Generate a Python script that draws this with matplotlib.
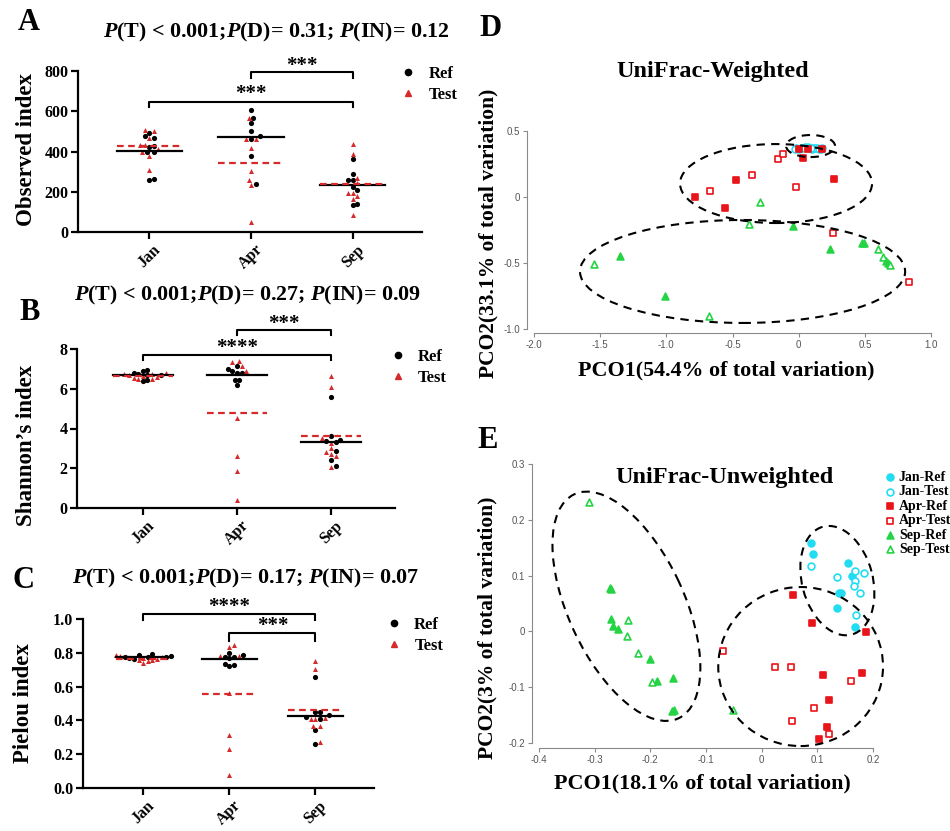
import numpy as np
import matplotlib
matplotlib.use("Agg")
import matplotlib.pyplot as plt
from matplotlib.lines import Line2D
from matplotlib.patches import Ellipse

plt.rcParams['font.family'] = ['Liberation Serif', 'DejaVu Serif']
plt.rcParams['font.weight'] = 'bold'
plt.rcParams['mathtext.fontset'] = 'custom'
plt.rcParams['mathtext.it'] = 'Liberation Serif:italic:bold'
plt.rcParams['mathtext.rm'] = 'Liberation Serif:bold'

# ---------------- data ----------------
months = ['Jan', 'Apr', 'Sep']

obs_ref = [[490, 478, 468, 425, 423, 400, 398, 265, 257],
           [606, 564, 543, 501, 476, 460, 378, 240],
           [365, 290, 258, 256, 225, 208, 137, 135]]
obs_test = [[505, 502, 465, 432, 430, 410, 400, 380, 307],
            [565, 460, 460, 418, 302, 257, 236, 50],
            [437, 390, 266, 243, 195, 192, 178, 166, 83]]

sha_ref = [[6.96, 6.91, 6.79, 6.72, 6.71, 6.70, 6.46, 6.37],
           [7.16, 7.00, 6.88, 6.80, 6.78, 6.46, 6.42, 6.20],
           [5.58, 3.60, 3.42, 3.39, 3.32, 2.88, 2.43, 2.13]]
sha_test = [[6.80, 6.75, 6.72, 6.70, 6.65, 6.60, 6.55, 6.50, 6.48],
            [7.38, 7.36, 7.16, 6.91, 4.53, 2.60, 1.84, 0.42],
            [6.62, 6.09, 3.50, 3.27, 3.02, 2.80, 2.73, 2.63, 2.06]]

pie_ref = [[0.790, 0.788, 0.780, 0.778, 0.776, 0.775, 0.770, 0.762],
           [0.797, 0.788, 0.778, 0.776, 0.768, 0.734, 0.725, 0.719],
           [0.654, 0.447, 0.447, 0.429, 0.419, 0.410, 0.341, 0.262]]
pie_test = [[0.785, 0.780, 0.775, 0.770, 0.765, 0.760, 0.758, 0.750, 0.742],
            [0.847, 0.833, 0.782, 0.782, 0.561, 0.315, 0.232, 0.079],
            [0.754, 0.705, 0.417, 0.410, 0.410, 0.368, 0.364, 0.270]]

titles_abc = ['$P$(T) < 0.001;$P$(D)= 0.31; $P$(IN)= 0.12',
              '$P$(T) < 0.001;$P$(D)= 0.27; $P$(IN)= 0.09',
              '$P$(T) < 0.001;$P$(D)= 0.17; $P$(IN)= 0.07']
ylabels_abc = ['Observed index', 'Shannon\u2019s index', 'Pielou index']

# brackets: (from, to, top, tick end, star centre, label)
brackets_a = [(1, 2, 795, 765, 850, '***'), (0, 2, 645, 620, 710, '***')]
brackets_b = [(1, 2, 8.97, 8.72, 9.5, '***'), (0, 2, 7.71, 7.46, 8.27, '****')]
brackets_c = [(0, 2, 1.028, 0.994, 1.10, '****'), (1, 2, 0.915, 0.872, 0.985, '***')]

groups = ['Jan-Ref', 'Jan-Test', 'Apr-Ref', 'Apr-Test', 'Sep-Ref', 'Sep-Test']

w_x = [[-0.02, 0.02, 0.05, 0.08, 0.11, 0.14, 0.17, 0.10],
       [-0.03, 0.00, 0.04, 0.07, 0.12, 0.15, 0.18, 0.09],
       [0.005, 0.07, 0.033, 0.176, 0.264, -0.474, -0.781, -0.559],
       [-0.156, -0.121, -0.35, -0.668, -0.018, 0.259, 0.836],
       [-1.353, -1.008, -0.043, 0.234, 0.479, 0.496, 0.663, 0.673],
       [-1.549, -0.678, -0.378, -0.295, 0.597, 0.637, 0.688]]
w_y = [[0.37, 0.375, 0.38, 0.37, 0.375, 0.37, 0.365, 0.36],
       [0.36, 0.365, 0.37, 0.38, 0.37, 0.365, 0.37, 0.375],
       [0.364, 0.364, 0.298, 0.364, 0.14, 0.129, 0.003, -0.08],
       [0.286, 0.326, 0.17, 0.048, 0.078, -0.274, -0.64],
       [-0.443, -0.753, -0.218, -0.392, -0.35, -0.345, -0.488, -0.5],
       [-0.506, -0.904, -0.203, -0.04, -0.395, -0.455, -0.513]]

u_x = [[0.089, 0.092, 0.155, 0.163, 0.139, 0.143, 0.136, 0.168],
       [0.088, 0.135, 0.167, 0.168, 0.165, 0.184, 0.176, 0.170],
       [0.057, 0.090, 0.187, 0.111, 0.180, 0.121, 0.117, 0.103],
       [-0.070, 0.024, 0.052, 0.160, 0.094, 0.055, 0.121],
       [-0.273, -0.270, -0.271, -0.267, -0.258, -0.201, -0.188, -0.159, -0.161, -0.158],
       [-0.310, -0.240, -0.242, -0.222, -0.197, -0.052]]
u_y = [[0.159, 0.139, 0.123, 0.100, 0.068, 0.068, 0.042, 0.007],
       [0.118, 0.098, 0.109, 0.090, 0.081, 0.104, 0.069, 0.030],
       [0.065, 0.0145, -0.001, -0.079, -0.074, -0.123, -0.172, -0.192],
       [-0.036, -0.064, -0.064, -0.089, -0.137, -0.160, -0.184],
       [0.077, 0.076, 0.022, 0.010, 0.004, -0.050, -0.089, -0.083, -0.143, -0.141],
       [0.231, 0.020, -0.009, -0.038, -0.090, -0.141]]

# dashed group ellipses: centre x, centre y, width, height, angle
ell_w = [(0.09, 0.386, 0.370, 0.167, 0), (-0.171, 0.102, 1.451, 0.598, 0),
         (-0.424, -0.564, 2.457, 0.78, 0)]
ell_u = [(-0.243, 0.045, 0.443, 0.208, 115), (0.136, 0.091, 0.200, 0.127, 105),
         (0.070, -0.063, 0.296, 0.285, 0)]

RED = '#d62a2a'
CYAN = '#22dcf2'
PRED = '#e8141a'
GREEN = '#25d444'
grp_style = [dict(marker='o', color=CYAN, filled=True),
             dict(marker='o', color=CYAN, filled=False),
             dict(marker='s', color=PRED, filled=True),
             dict(marker='s', color=PRED, filled=False),
             dict(marker='^', color=GREEN, filled=True),
             dict(marker='^', color=GREEN, filled=False)]


def swarm(ax, xc, vals, diam=4.6):
    # simple beeswarm: push points sideways until they stop overlapping
    pts = ax.transData.transform(np.column_stack([np.full(len(vals), xc), vals]))
    ypx = pts[:, 1]
    unit = ax.transData.transform((1, 0))[0] - ax.transData.transform((0, 0))[0]
    placed = []
    off = np.zeros(len(vals))
    for i in np.argsort(ypx):
        k = 0
        found = None
        while found is None:
            for c in ([0] if k == 0 else [k, -k]):
                dx = c * diam * 0.5
                if all((dx - px) ** 2 + (ypx[i] - py) ** 2 >= diam ** 2 for px, py in placed):
                    found = dx
                    break
            k += 1
        placed.append((found, ypx[i]))
        off[i] = found
    return xc + off / unit


fig = plt.figure(figsize=(9.5, 8.31), dpi=100)

# ---------------- A, B, C ----------------
px_boxes = [(78, 422, 71, 232), (77, 395, 349, 508), (83, 374, 619, 788)]
ylims = [800, 8, 1.0]
yticks = [[0, 200, 400, 600, 800], [0, 2, 4, 6, 8], [0, 0.2, 0.4, 0.6, 0.8, 1.0]]
refs = [obs_ref, sha_ref, pie_ref]
tests = [obs_test, sha_test, pie_test]
brks = [brackets_a, brackets_b, brackets_c]
title_pos = [(276, 32), (247, 295), (246, 578)]
ylab_pos = [(27, 150), (27, 445), (24, 703)]
letters = [('A', 29, 23), ('B', 30, 313), ('C', 23, 580)]
leg_anchor = [(0.936, 1.03), (0.984, 1.0), (1.041, 1.01)]

for p in range(3):
    l, r, t, b = px_boxes[p]
    ax = fig.add_axes([l / 950, 1 - b / 831, (r - l) / 950, (b - t) / 831])
    ax.set_xlim(-0.7, 2.68)
    ax.set_ylim(0, ylims[p])
    for s in ['top', 'right']:
        ax.spines[s].set_visible(False)
    for s in ['left', 'bottom']:
        ax.spines[s].set_linewidth(1.6)
    ax.set_xticks(range(3))
    ax.set_xticklabels(months, rotation=45, ha='center')
    ax.set_yticks(yticks[p])
    if p == 2:
        ax.set_yticklabels(['%.1f' % v for v in yticks[p]])
    ax.tick_params(width=1.6, length=5, labelsize=11.5, pad=2)
    for i in range(3):
        vals = refs[p][i] + tests[p][i]
        xs = swarm(ax, i, vals)
        n = len(refs[p][i])
        ax.scatter(xs[:n], refs[p][i], s=14, color='black', zorder=3, lw=0)
        ax.scatter(xs[n:], tests[p][i], s=13, marker='^', color=RED, zorder=3, lw=0)
        ax.plot([i - 0.32, i + 0.32], [np.mean(refs[p][i])] * 2, color='black', lw=1.6, zorder=4)
        ax.plot([i - 0.32, i + 0.32], [np.mean(tests[p][i])] * 2, color=RED, lw=1.6,
                ls=(0, (3, 2)), zorder=4)
    for x1, x2, ytop, yend, ystar, lab in brks[p]:
        ax.plot([x1, x1, x2, x2], [yend, ytop, ytop, yend], color='black', lw=1.5, clip_on=False)
        ax.annotate(lab, ((x1 + x2) / 2, ystar), xytext=(0, -7), textcoords='offset points',
                    ha='center', va='baseline', fontsize=15, annotation_clip=False)
    handles = [Line2D([], [], marker='o', color='black', ls='', ms=4.5),
               Line2D([], [], marker='^', color=RED, ls='', ms=4.5)]
    ax.legend(handles, ['Ref', 'Test'], loc='upper left', bbox_to_anchor=leg_anchor[p],
              frameon=False, fontsize=12, borderpad=0, handlelength=1.0,
              handletextpad=0.7, labelspacing=0.3, borderaxespad=0)
    fig.text(title_pos[p][0] / 950, 1 - title_pos[p][1] / 831, titles_abc[p],
             ha='center', va='center', fontsize=15.8)
    fig.text(ylab_pos[p][0] / 950, 1 - ylab_pos[p][1] / 831, ylabels_abc[p],
             ha='center', va='center', rotation=90, fontsize=16.5)
    lt, lx, ly = letters[p]
    fig.text(lx / 950, 1 - ly / 831, lt, ha='center', va='center', fontsize=22)

# ---------------- D, E ----------------
pco_boxes = [(527, 931, 131, 333), (532, 873, 464, 748)]
pco_lims = [((-2.053, 1.0), (-1.03, 0.5)), ((-0.4126, 0.2), (-0.209, 0.3))]
pco_xt = [[-2.0, -1.5, -1.0, -0.5, 0, 0.5, 1.0], [-0.4, -0.3, -0.2, -0.1, 0, 0.1, 0.2]]
pco_yt = [[-1.0, -0.5, 0, 0.5], [-0.2, -0.1, 0, 0.1, 0.2, 0.3]]
pco_x = [w_x, u_x]
pco_y = [w_y, u_y]
pco_ell = [ell_w, ell_u]
pco_titles = [('UniFrac-Weighted', 713, 72), ('UniFrac-Unweighted', 725, 478)]
pco_xlab = [('PCO1(54.4% of total variation)', 726, 370), ('PCO1(18.1% of total variation)', 702, 783)]
pco_ylab = [('PCO2(33.1% of total variation)', 488, 233), ('PCO2(3% of total variation)', 487, 628)]
pco_letters = [('D', 490, 28), ('E', 488, 441)]


def fmt(v):
    return '0' if v == 0 else '%.1f' % v


for p in range(2):
    l, r, t, b = pco_boxes[p]
    ax = fig.add_axes([l / 950, 1 - b / 831, (r - l) / 950, (b - t) / 831])
    ax.set_xlim(*pco_lims[p][0])
    ax.set_ylim(*pco_lims[p][1])
    for s in ['top', 'right']:
        ax.spines[s].set_visible(False)
    for s in ['left', 'bottom']:
        ax.spines[s].set_color('#8a8a8a')
        ax.spines[s].set_linewidth(0.8)
    ax.spines['left'].set_bounds(pco_yt[p][0], pco_yt[p][-1])
    ax.spines['bottom'].set_bounds(pco_xt[p][0], pco_xt[p][-1])
    ax.set_xticks(pco_xt[p])
    ax.set_xticklabels([fmt(v) for v in pco_xt[p]])
    ax.set_yticks(pco_yt[p])
    ax.set_yticklabels([fmt(v) for v in pco_yt[p]])
    ax.tick_params(length=3, width=0.8, color='#8a8a8a', labelsize=7,
                   labelcolor='#555555', pad=2)
    for lbl in ax.get_xticklabels() + ax.get_yticklabels():
        lbl.set_fontfamily('Liberation Sans')
        lbl.set_fontweight('normal')
    for g in range(6):
        st = grp_style[g]
        face = st['color'] if st['filled'] else 'white'
        ax.scatter(pco_x[p][g], pco_y[p][g], s=24, marker=st['marker'], facecolor=face,
                   edgecolor=st['color'], linewidths=1.2, zorder=3, label=groups[g],
                   clip_on=False)
    for cx, cy, ew, eh, ang in pco_ell[p]:
        ax.add_patch(Ellipse((cx, cy), ew, eh, angle=ang, fill=False, ec='black',
                             lw=1.5, ls=(0, (4, 3)), zorder=4, clip_on=False))
    tt, tx, ty = pco_titles[p]
    fig.text(tx / 950, 1 - ty / 831, tt, ha='center', va='center', fontsize=17.5)
    xl, xx, xy = pco_xlab[p]
    fig.text(xx / 950, 1 - xy / 831, xl, ha='center', va='center', fontsize=15.8)
    yl, yx, yy = pco_ylab[p]
    fig.text(yx / 950, 1 - yy / 831, yl, ha='center', va='center', rotation=90, fontsize=15.5)
    lt, lx, ly = pco_letters[p]
    fig.text(lx / 950, 1 - ly / 831, lt, ha='center', va='center', fontsize=22)
    if p == 1:
        ax.legend(loc='upper left', bbox_to_anchor=(1.033, 0.975), frameon=False,
                  fontsize=10, borderpad=0, handlelength=0.8, handletextpad=0.25,
                  labelspacing=0.1, borderaxespad=0, scatterpoints=1)

fig.savefig('out.png', dpi=100)
